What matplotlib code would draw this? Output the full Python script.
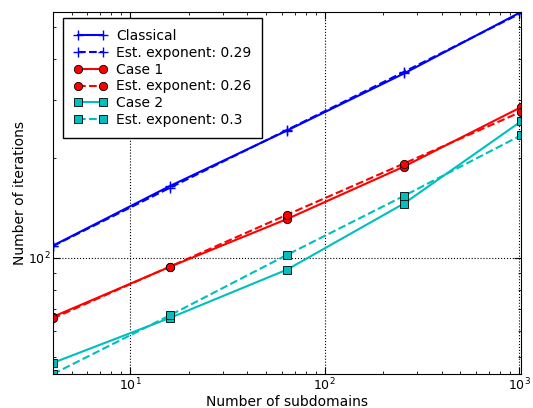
import matplotlib
matplotlib.use("Agg")
import matplotlib.pyplot as plt
from matplotlib.ticker import NullFormatter, LogLocator

subdomains = [4, 16, 64, 256, 1024]

classical = [108.8, 165, 243, 362, 556]
classical_est = [108.5, 163, 244, 366, 552]

case1 = [66.2, 93.9, 131, 189, 286]
case1_est = [65.5, 94.0, 135, 193, 277]

case2 = [48.0, 65.7, 92.0, 146, 259]
case2_est = [44.4, 66.9, 102, 154, 235]

labels = ["Classical", "Est. exponent: 0.29", "Case 1", "Est. exponent: 0.26",
          "Case 2", "Est. exponent: 0.3"]

plt.rcParams['font.family'] = ['DejaVu Sans']
plt.rcParams['font.size'] = 10

fig = plt.figure(figsize=(5.33, 4.08), dpi=100)
ax = fig.add_axes([53/533, 1-374/408, (521-53)/533, (374-12)/408])

lw = 1.5
ax.plot(subdomains, classical, '-', color='b', marker='+', ms=7, mew=1.0, lw=lw, label=labels[0])
ax.plot(subdomains, classical_est, '--', color='b', marker='+', ms=7, mew=1.0, lw=lw, label=labels[1])
ax.plot(subdomains, case1, '-', color='r', marker='o', ms=6, mec='k', mew=0.6, lw=lw, label=labels[2])
ax.plot(subdomains, case1_est, '--', color='r', marker='o', ms=6, mec='k', mew=0.6, lw=lw, label=labels[3])
ax.plot(subdomains, case2, '-', color='c', marker='s', ms=6, mec='k', mew=0.6, lw=lw, label=labels[4])
ax.plot(subdomains, case2_est, '--', color='c', marker='s', ms=6, mec='k', mew=0.6, lw=lw, label=labels[5])

ax.set_xscale('log')
ax.set_yscale('log')
ax.set_xlim(min(subdomains), max(subdomains))
allv = classical + classical_est + case1 + case1_est + case2 + case2_est
ax.set_ylim(min(allv), max(allv))

ax.yaxis.set_minor_formatter(NullFormatter())
ax.xaxis.set_minor_formatter(NullFormatter())
ax.yaxis.set_major_locator(LogLocator(base=10))
ax.tick_params(which='both', direction='in', top=True, right=True, labelsize=9, pad=2)
ax.tick_params(which='major', length=5, width=0.8)
ax.tick_params(which='minor', length=2.5, width=0.6)

ax.grid(True, which='major', linestyle=':', color='k', linewidth=0.8)

ax.set_xlabel("Number of subdomains", labelpad=1)
ax.set_ylabel("Number of iterations", labelpad=0.5)

leg = ax.legend(loc='upper left', numpoints=2, fancybox=False, framealpha=1,
                edgecolor='k', handlelength=2.4, handletextpad=0.6, borderpad=0.8,
                labelspacing=0.2, borderaxespad=0,
                bbox_to_anchor=((63-53)/468, 1-(18-12)/362))
leg.get_frame().set_linewidth(1.0)

fig.savefig("out.png", dpi=100)
